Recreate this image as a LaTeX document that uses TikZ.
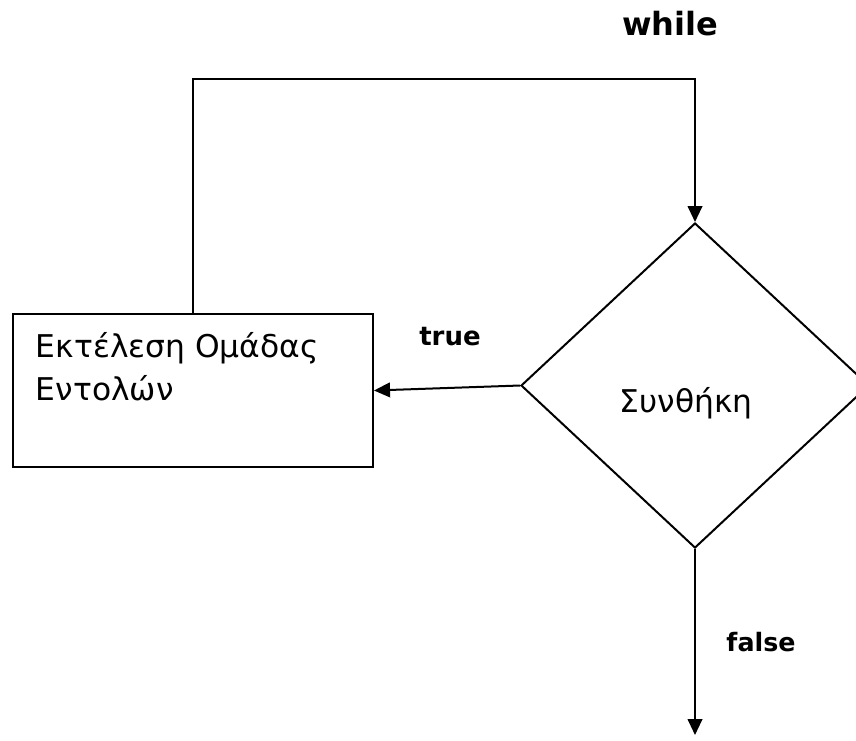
\documentclass[tikz,border=0pt]{standalone}
\usepackage{fontspec}
\setmainfont{DejaVu Sans}
\usetikzlibrary{arrows.meta,shapes.geometric}
\begin{document}
\begin{tikzpicture}[x=0.75pt,y=-0.75pt,
  line width=1.5pt,
  flow/.style={-{Triangle[length=12pt,width=11pt]}},
  stepbox/.style={draw,rectangle,inner sep=0pt,minimum width=270pt,minimum height=114.75pt},
  decision/.style={draw,diamond,inner sep=0pt,minimum width=261pt,minimum height=243.75pt},
  bodytext/.style={font=\fontsize{23.5}{32.25}\selectfont,inner sep=0pt,align=left},
  keyword/.style={font=\fontsize{19.5}{24}\selectfont\bfseries,inner sep=0pt}]
  \useasboundingbox (0,0) rectangle (856,740);

  % statement block and loop condition
  \node[stepbox] (box) at (193,390.5) {};
  \node[bodytext,anchor=base west] (boxtext) at (35,400) {Εκτέλεση Ομάδας\\Εντολών};
  \node[decision] (cond) at (695,385.5) {};
  \node[bodytext,anchor=base] (condtext) at (686,412) {Συνθήκη};

  % loop back edge
  \coordinate (loopL) at (193,79);
  \coordinate (loopR) at (695,79);
  \draw[flow] (box.north) -- (loopL) -- (loopR) -- (cond.north);

  % branches
  \draw[flow] (cond.west) -- (box.east);
  \coordinate (exit) at (695,735);
  \draw[flow] (cond.south) -- (exit);

  % labels
  \node[keyword,anchor=base,font=\fontsize{24}{28}\selectfont\bfseries] (lwhile) at (670,35) {while};
  \node[keyword,anchor=base] (ltrue) at (450,345) {true};
  \node[keyword,anchor=base,font=\fontsize{19}{24}\selectfont\bfseries] (lfalse) at (761,651) {false};
\end{tikzpicture}
\end{document}
